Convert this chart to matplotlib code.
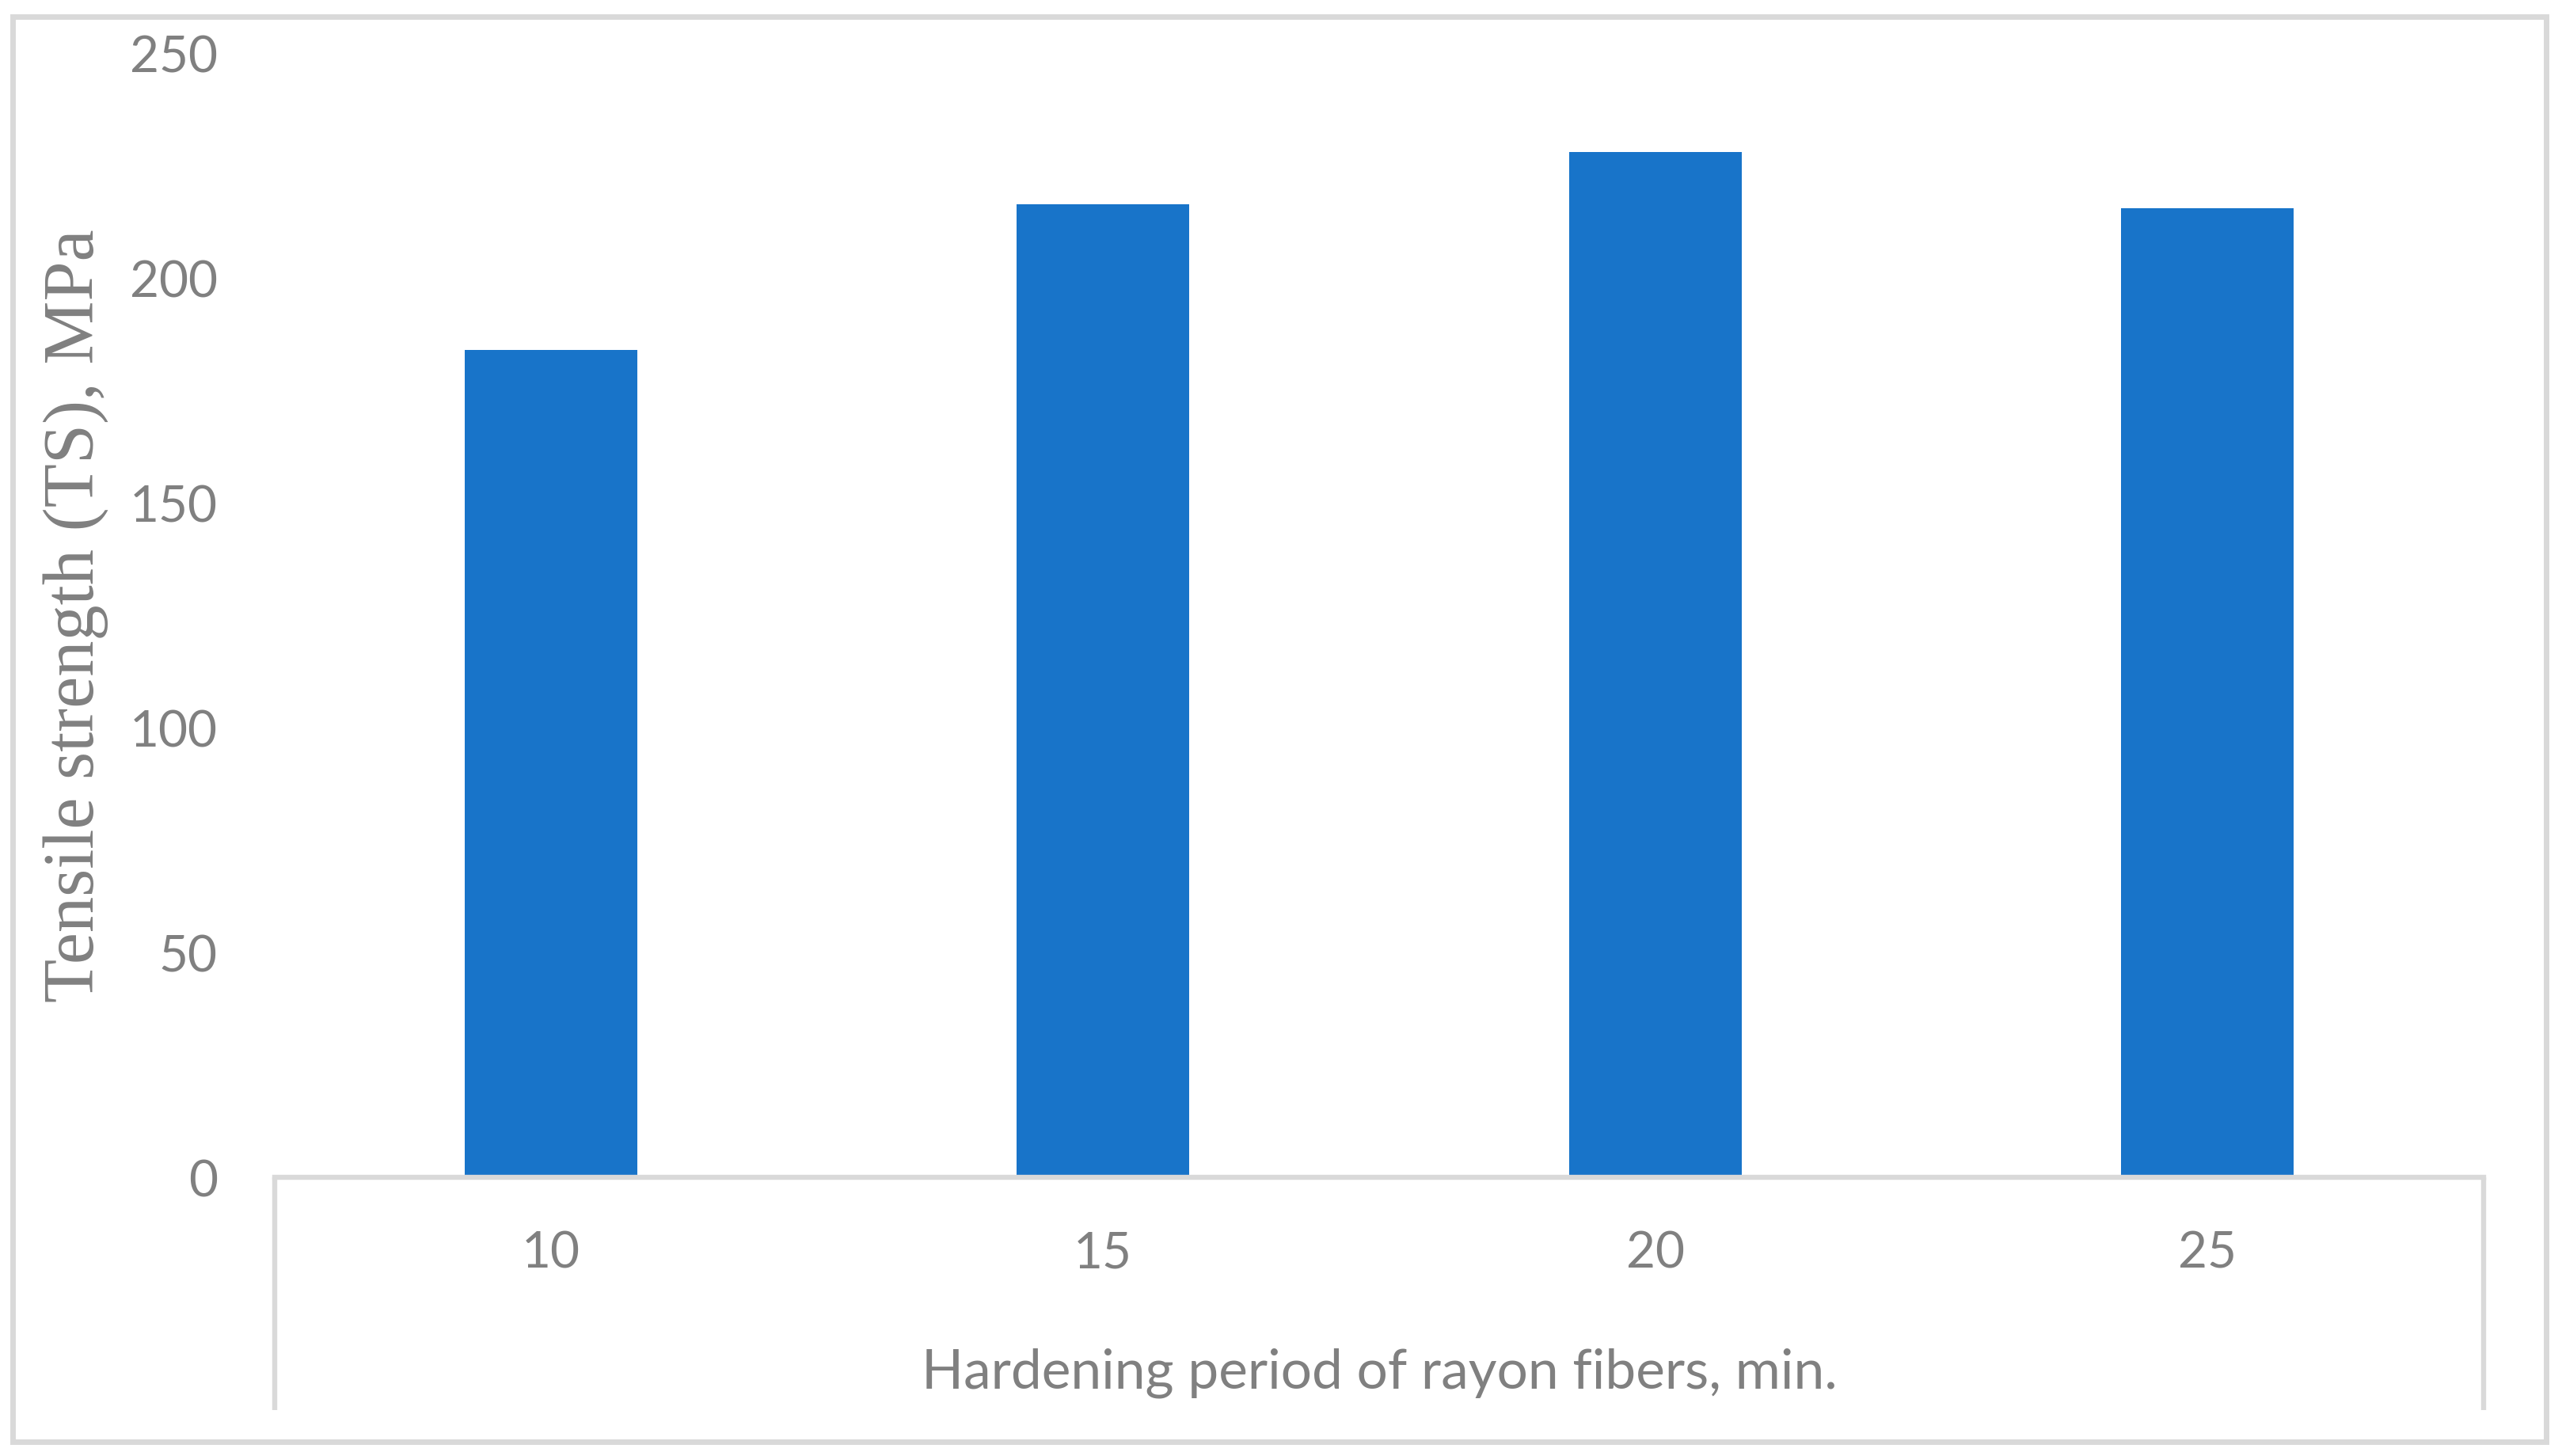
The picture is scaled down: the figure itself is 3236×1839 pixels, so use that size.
import matplotlib
matplotlib.use("Agg")
import matplotlib.pyplot as plt
from matplotlib.lines import Line2D
from matplotlib.patches import Rectangle

categories = ["10", "15", "20", "25"]
tensile_strength = [184.0, 216.4, 228.0, 215.5]
y_ticks = [0, 50, 100, 150, 200, 250]

BAR_COLOR = "#1874C9"
LINE_COLOR = "#D9D9D9"
TEXT_COLOR = "#808080"
SANS = ["Lato", "DejaVu Sans"]
SERIF = ["Liberation Serif", "DejaVu Serif"]

W, H, DPI = 3237, 1840, 200
fig = plt.figure(figsize=(W / DPI, H / DPI), dpi=DPI)
fig.patch.set_facecolor("white")

left, right = 347 / W, 3137 / W
bottom, top = 1 - 1488 / H, 1 - 68 / H
ax = fig.add_axes([left, bottom, right - left, top - bottom])

x = list(range(len(categories)))
ax.bar(x, tensile_strength, width=0.312, color=BAR_COLOR, zorder=2)

ax.set_xlim(-0.5, len(categories) - 0.5)
ax.set_ylim(0, 250)
ax.set_yticks(y_ticks)
ax.set_yticklabels([str(t) for t in y_ticks])
ax.set_xticks(x)
ax.set_xticklabels(categories)

for s in ["top", "right", "left"]:
    ax.spines[s].set_visible(False)
ax.spines["bottom"].set_color(LINE_COLOR)
ax.spines["bottom"].set_linewidth(2.3)
ax.spines["bottom"].set_capstyle("projecting")

ax.tick_params(axis="y", length=0, pad=26, labelsize=23, labelcolor=TEXT_COLOR)
ax.tick_params(axis="x", length=0, pad=24, labelsize=23, labelcolor=TEXT_COLOR)
for lab in ax.get_xticklabels() + ax.get_yticklabels():
    lab.set_family(SANS)

# lower category box (vertical sides below the axis)
yb = 1 - 1782 / H
for xx in (left, right):
    fig.add_artist(Line2D([xx, xx], [bottom, yb], color=LINE_COLOR, lw=2.3,
                          transform=fig.transFigure, solid_capstyle="butt"))

# axis titles
fig.text((left + right) / 2, 1 - 1754 / H, "Hardening period of rayon fibers, min.",
         ha="center", va="baseline", fontsize=25, color=TEXT_COLOR, family=SANS)
fig.text(96 / W, 1 - 778 / H, "Tensile strength (TS), MPa", rotation=90,
         ha="center", va="center", fontsize=32.5, color=TEXT_COLOR, family=SERIF)

# outer chart border
x0, x1 = 16 / W, 3216 / W
y0, y1 = 1 - 1822 / H, 1 - 22 / H
fig.add_artist(Rectangle((x0, y0), x1 - x0, y1 - y0, transform=fig.transFigure,
                         fill=False, edgecolor=LINE_COLOR, lw=2.5))

fig.savefig("out.png", dpi=DPI, facecolor="white")
